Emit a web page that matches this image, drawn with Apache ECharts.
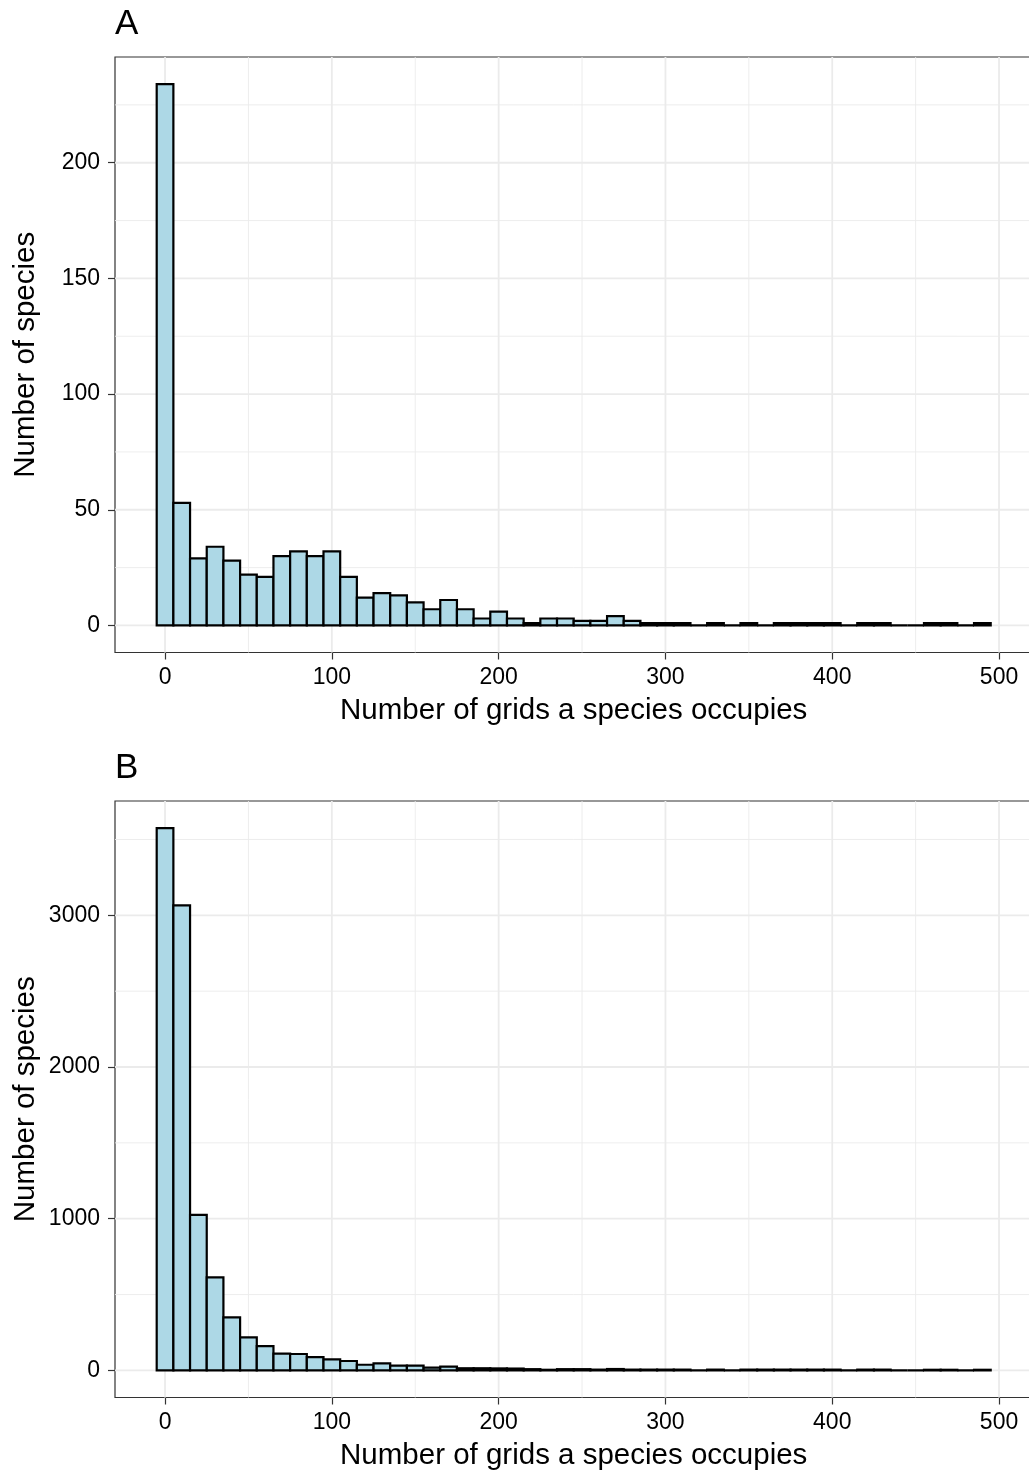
<!DOCTYPE html>
<html>
<head>
<meta charset="utf-8">
<script src="https://cdn.jsdelivr.net/npm/echarts@6/dist/echarts.min.js"></script>
<style>
  html, body { margin: 0; padding: 0; background: #ffffff; overflow: hidden; }
  /* the plot panels run a few pixels past the right edge of the page */
  #chart { width: 1040px; height: 1473px; }
</style>
</head>
<body>
<div id="chart"></div>
<script>
// Histogram bins (width 10, centred on these values)
const binCentres = [0, 10, 20, 30, 40, 50, 60, 70, 80, 90,
  100, 110, 120, 130, 140, 150, 160, 170, 180, 190,
  200, 210, 220, 230, 240, 250, 260, 270, 280, 290,
  300, 310, 320, 330, 340, 350, 360, 370, 380, 390,
  400, 410, 420, 430, 440, 450, 460, 470, 480, 490];
const binWidth = 10;

// Panel A: number of species per occupancy bin
const countsA = [234, 53, 29, 34, 28, 22, 21, 30, 32, 30,
  32, 21, 12, 14, 13, 10, 7, 11, 7, 3,
  6, 3, 1, 3, 3, 2, 2, 4, 2, 1,
  1, 1, 0, 1, 0, 1, 0, 1, 1, 1,
  1, 0, 1, 1, 0, 0, 1, 1, 0, 1];

// Panel B: number of species per occupancy bin
const countsB = [3575, 3065, 1025, 613, 349, 217, 160, 110, 108, 88,
  73, 62, 37, 46, 31, 31, 18, 25, 14, 14,
  13, 12, 8, 4, 8, 8, 5, 9, 5, 5,
  5, 5, 0, 5, 0, 5, 5, 5, 5, 5,
  5, 0, 5, 5, 0, 0, 4, 4, 0, 4];

// Axis breaks
const xTicks = [0, 100, 200, 300, 400, 500];
const xMinorTicks = [50, 150, 250, 350, 450];
const yTicksA = [0, 50, 100, 150, 200];
const yMinorTicksA = [25, 75, 125, 175, 225];
const yTicksB = [0, 1000, 2000, 3000];
const yMinorTicksB = [500, 1500, 2500, 3500];

const panelLabels = ['A', 'B'];
const xTitle = 'Number of grids a species occupies';
const yTitle = 'Number of species';

const FONT = '"Liberation Sans", Arial, Helvetica, sans-serif';
const BAR_FILL = '#ADD8E6';
const GRID_COLOR = '#EBEBEB';
const FRAME_COLOR = '#333333';

// ggplot-style 5% expansion of the data range
function expandRange(lo, hi) {
  const pad = (hi - lo) * 0.05;
  return [lo - pad, hi + pad];
}
const xRange = expandRange(binCentres[0] - binWidth / 2, binCentres[binCentres.length - 1] + binWidth / 2);
const yRangeA = expandRange(0, Math.max(...countsA));
const yRangeB = expandRange(0, Math.max(...countsB));

function gridLineData(xMaj, xMin, yMaj, yMin) {
  const d = [];
  xMin.forEach(v => d.push([v, 1, 0]));
  yMin.forEach(v => d.push([v, 0, 0]));
  xMaj.forEach(v => d.push([v, 1, 1]));
  yMaj.forEach(v => d.push([v, 0, 1]));
  return d;
}

function renderGridLine(params, api) {
  const cs = params.coordSys;
  const v = api.value(0), isX = api.value(1), major = api.value(2);
  const style = { stroke: GRID_COLOR, lineWidth: major ? 1.8 : 0.9, fill: null };
  if (isX) {
    const x = api.coord([v, 0])[0];
    return { type: 'line', shape: { x1: x, y1: cs.y, x2: x, y2: cs.y + cs.height }, style };
  }
  const y = api.coord([0, v])[1];
  return { type: 'line', shape: { x1: cs.x, y1: y, x2: cs.x + cs.width, y2: y }, style };
}

function renderBar(params, api) {
  const c = api.value(0), n = api.value(1);
  const topLeft = api.coord([c - binWidth / 2, n]);
  const bottomRight = api.coord([c + binWidth / 2, 0]);
  return {
    type: 'rect',
    shape: { x: topLeft[0], y: topLeft[1], width: bottomRight[0] - topLeft[0], height: bottomRight[1] - topLeft[1] },
    style: { fill: BAR_FILL, stroke: '#000000', lineWidth: 2.2 }
  };
}

const plotLeft = 115, plotWidth = 917.4;
const panels = [
  { top: 57, height: 595.5, counts: countsA, yRange: yRangeA, yTicks: yTicksA, yMinor: yMinorTicksA },
  { top: 801, height: 596.5, counts: countsB, yRange: yRangeB, yTicks: yTicksB, yMinor: yMinorTicksB }
];

const grids = [], xAxes = [], yAxes = [], series = [], graphics = [];
panels.forEach((p, i) => {
  grids.push({
    left: plotLeft, top: p.top, width: plotWidth, height: p.height,
    show: true, backgroundColor: '#ffffff', borderColor: FRAME_COLOR, borderWidth: 1.2,
    containLabel: false
  });
  xAxes.push({
    type: 'value', gridIndex: i, min: xRange[0], max: xRange[1],
    axisLine: { show: false, onZero: false },
    axisTick: { show: true, length: 7, customValues: xTicks, lineStyle: { color: FRAME_COLOR, width: 1.2 } },
    axisLabel: {
      show: true, customValues: xTicks, margin: 14, color: '#000000',
      fontFamily: FONT, fontSize: 23, lineHeight: 23, formatter: v => String(v)
    },
    splitLine: { show: false }, minorSplitLine: { show: false }
  });
  yAxes.push({
    type: 'value', gridIndex: i, min: p.yRange[0], max: p.yRange[1],
    axisLine: { show: false, onZero: false },
    axisTick: { show: true, length: 7, customValues: p.yTicks, lineStyle: { color: FRAME_COLOR, width: 1.2 } },
    axisLabel: {
      show: true, customValues: p.yTicks, margin: 15, color: '#000000',
      fontFamily: FONT, fontSize: 23, lineHeight: 23, formatter: v => String(v)
    },
    splitLine: { show: false }, minorSplitLine: { show: false }
  });
  series.push({
    type: 'custom', xAxisIndex: i, yAxisIndex: i, z: 1, silent: true,
    renderItem: renderGridLine,
    data: gridLineData(xTicks, xMinorTicks, p.yTicks, p.yMinor)
  });
  series.push({
    type: 'custom', xAxisIndex: i, yAxisIndex: i, z: 3,
    renderItem: renderBar,
    data: binCentres.map((c, k) => [c, p.counts[k]])
  });

  const bottom = p.top + p.height;
  graphics.push({
    type: 'text', x: 115, y: p.top - 33, z: 10,
    style: { text: panelLabels[i], font: '35px ' + FONT, fill: '#000000', align: 'left', verticalAlign: 'middle' }
  });
  graphics.push({
    type: 'text', x: plotLeft + plotWidth / 2, y: bottom + 58, z: 10,
    style: { text: xTitle, font: '29.5px ' + FONT, fill: '#000000', align: 'center', verticalAlign: 'middle' }
  });
  graphics.push({
    type: 'text', x: 26, y: p.top + p.height / 2, rotation: Math.PI / 2, z: 10,
    style: { text: yTitle, font: '29.5px ' + FONT, fill: '#000000', align: 'center', verticalAlign: 'middle' }
  });
});

const chart = echarts.init(document.getElementById('chart'), null, { renderer: 'canvas' });
chart.setOption({
  backgroundColor: '#ffffff',
  animation: false,
  grid: grids,
  xAxis: xAxes,
  yAxis: yAxes,
  series: series,
  graphic: graphics
});
</script>
</body>
</html>
